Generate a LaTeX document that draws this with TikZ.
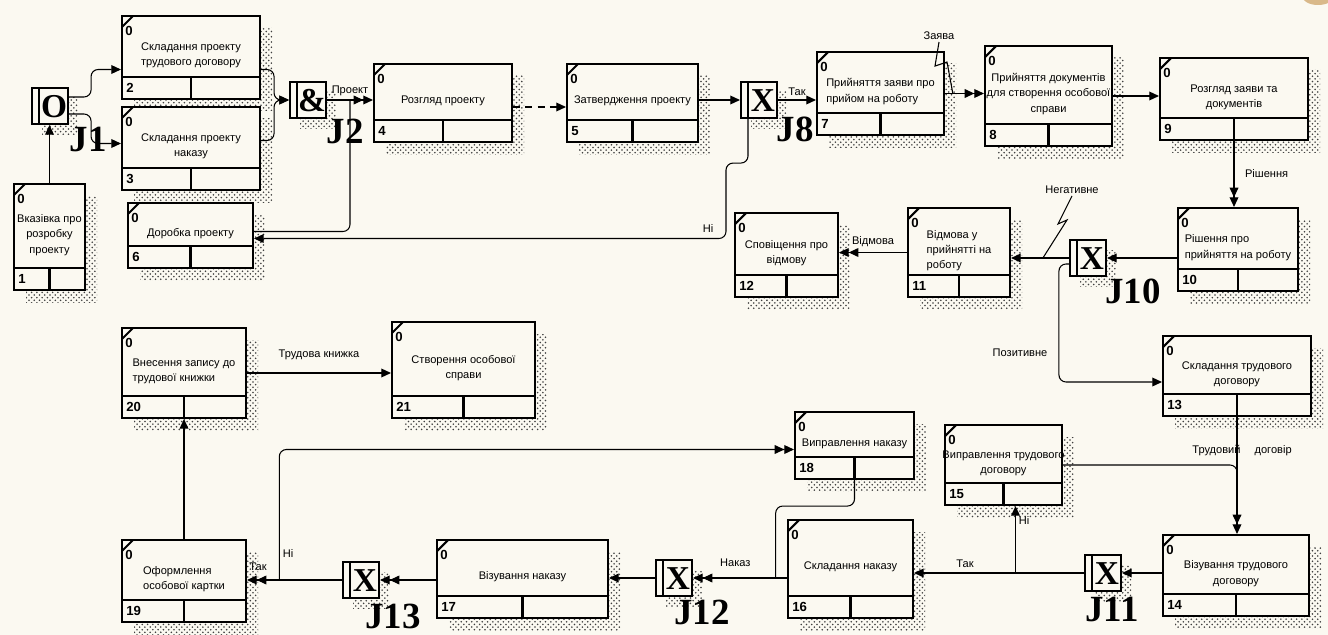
\documentclass[tikz,border=0pt]{standalone}
\usepackage{fontspec}
\setmainfont{Liberation Sans}
\newfontfamily\jfont{Liberation Serif}
\usetikzlibrary{arrows.meta,patterns,fit,calc}
\definecolor{paper}{HTML}{FBF9F1}
\definecolor{hatchgray}{HTML}{404040}
\definecolor{seal}{HTML}{D9B98A}

\tikzset{
  uowbox/.style={draw, line width=1.2pt, fill=paper, inner sep=0pt},
  jbox/.style={draw, line width=1.2pt, fill=paper, inner sep=0pt},
  hatch/.style={pattern=crosshatch dots, pattern color=hatchgray},
  flow/.style={line width=0.6pt, -{Triangle[length=5.5pt,width=5pt]}},
  dflow/.style={line width=0.6pt, -{Triangle[length=5.5pt,width=5pt]Triangle[length=5.5pt,width=5pt]}},
  link/.style={line width=0.6pt},
  lbl/.style={font=\fontsize{6.3}{8}\selectfont, inner sep=1pt},
  uowtext/.style={font=\fontsize{6.3}{8.7}\selectfont, inner sep=0pt},
  idnum/.style={font=\fontsize{7.5}{8}\selectfont\bfseries, inner sep=0pt},
  jsym/.style={font=\jfont\bfseries\fontsize{19}{19}\selectfont, inner sep=0pt},
  jlabel/.style={font=\jfont\bfseries\fontsize{21}{21}\selectfont, inner sep=0pt},
}

% робота: ім'я, x1, y1, x2, y2, номер, вирівнювання, текст
\newcommand{\uow}[8]{%
  \fill[hatch] (#2+12,#3+12) rectangle (#4+12,#5+12);
  \node[uowbox, fit={(#2,#3) (#4,#5)}] (#1) {};
  \draw[line width=1.2pt] (#2,#5-22) -- (#4,#5-22) ({(#2+#4)/2},#5-22) -- ({(#2+#4)/2},#5);
  \draw[line width=1.2pt] (#2,#3+11) -- (#2+11,#3);
  \node[idnum] (#1-z) at (#2+7,#3+15) {0};
  \node[idnum, anchor=west] (#1-n) at (#2+4,#5-11) {#6};
  \node[uowtext, align=#7] (#1-t) at ({(#2+#4)/2},{(#3+#5-22)/2+9}) {#8};
}

% перехрестя: ім'я, x, y, символ
\newcommand{\junc}[4]{%
  \fill[hatch] (#2+10,#3+10) rectangle (#2+46,#3+46);
  \node[jbox, fit={(#2,#3) (#2+36,#3+36)}] (#1) {};
  \draw[line width=1.2pt] (#2+7,#3) -- (#2+7,#3+36);
  \node[jsym] (#1-s) at (#2+22,#3+19) {#4};
}

\begin{document}
\begin{tikzpicture}[x=0.02cm, y=-0.02cm]
    % Тло
    \fill[paper] (0,0) rectangle (1328,635);
    \useasboundingbox (0,0) rectangle (1328,635);
    \begin{scope}
      \clip (0,0) rectangle (1328,635);
      \fill[seal] (1318,-4) ellipse [x radius=16, y radius=9];
    \end{scope}

    % Роботи
    \uow{b1}{14}{184}{85}{290}{1}{center}{Вказівка про\\розробку\\проекту}
    \uow{b2}{122}{16}{260}{99}{2}{center}{Складання проекту\\трудового договору}
    \uow{b3}{122}{107}{260}{190}{3}{center}{Складання проекту\\наказу}
    \uow{b6}{128}{203}{253}{268}{6}{center}{Доробка проекту}
    \uow{b4}{374}{64}{512}{142}{4}{center}{Розгляд проекту}
    \uow{b5}{567}{64}{698}{142}{5}{center}{Затвердження проекту}
    \uow{b7}{817}{52}{944}{135}{7}{left}{Прийняття заяви про\\прийом на роботу}
    \uow{b8}{985}{46}{1112}{146}{8}{center}{Прийняття документів\\для створення особової\\справи}
    \uow{b9}{1160}{58}{1308}{140}{9}{center}{Розгляд заяви та\\документів}
    \uow{b10}{1178}{208}{1298}{291}{10}{left}{Рішення про\\прийняття на роботу}
    \uow{b11}{908}{208}{1010}{297}{11}{left}{Відмова у\\прийнятті на\\роботу}
    \uow{b12}{735}{213}{838}{297}{12}{center}{Сповіщення про\\відмову}
    \uow{b13}{1163}{336}{1311}{416}{13}{center}{Складання трудового\\договору}
    \uow{b14}{1163}{535}{1309}{616}{14}{center}{Візування трудового\\договору}
    \uow{b15}{945}{425}{1062}{505}{15}{center}{Виправлення трудового\\договору}
    \uow{b16}{788}{520}{913}{618}{16}{center}{Складання наказу}
    \uow{b18}{795}{412}{914}{479}{18}{center}{Виправлення наказу}
    \uow{b17}{437}{540}{608}{618}{17}{center}{Візування наказу}
    \uow{b19}{122}{540}{246}{622}{19}{left}{Оформлення\\особової картки}
    \uow{b20}{122}{328}{246}{418}{20}{left}{Внесення запису до\\трудової книжки}
    \uow{b21}{392}{322}{535}{418}{21}{center}{Створення особової\\справи}

    % Перехрестя
    \junc{j1}{32}{88}{O}
    \junc{j2}{290}{82}{\&}
    \junc{j8}{741}{82}{X}
    \junc{j10}{1070}{240}{X}
    \junc{j11}{1085}{555}{X}
    \junc{j12}{656}{560}{X}
    \junc{j13}{343}{562}{X}
    \node[jlabel] (j1-l) at (88,140) {J1};
    \node[jlabel] (j2-l) at (345,131) {J2};
    \node[jlabel] (j8-l) at (795,129) {J8};
    \node[jlabel] (j10-l) at (1133,291) {J10};
    \node[jlabel] (j11-l) at (1112,609) {J11};
    \node[jlabel] (j12-l) at (702,612) {J12};
    \node[jlabel] (j13-l) at (393,616) {J13};

    % Зв'язки: верхній ряд
    \draw[flow] (b1.north) -- (b1.north |- j1.south);
    \draw[flow, rounded corners=4pt] ($(j1.east)+(0,-9)$) -- ++(22,0) |- ($(b2.west)+(0,12)$);
    \draw[flow, rounded corners=4pt] ($(j1.east)+(0,8)$) -- ++(22,0) |- ($(b3.west)+(0,-5)$);
    \draw[flow, rounded corners=4pt] ($(b2.east)+(0,12)$) -- ++(13,0) |- (j2.west);
    \draw[flow, rounded corners=4pt] ($(b3.east)+(0,-8)$) -- ++(13,0) |- (j2.west);
    \draw[dflow] (j2.east) -- (j2.east -| b4.west) node[lbl, midway, above=1pt] (l-proekt) {Проект};
    \coordinate (m4) at ($(j2.east)!0.5!(j2.east -| b4.west)$);
    \draw[link, rounded corners=4pt] ($(b6.east)+(0,-4)$) -| (m4);
    \draw[flow, dash pattern=on 4pt off 3pt] ($(b4.east)+(0,4)$) -- ($(b5.west)+(0,4)$);
    \draw[flow] (b5.east |- j8.west) -- (j8.west);
    \draw[flow] (j8.east) -- (j8.east -| b7.west) node[lbl, midway, above=1pt] (l-tak8) {Так};
    \draw[flow, rounded corners=4pt] ($(j8.south)+(-11,0)$) -- ++(0,44) -- ++(-22,0) |- ($(b6.east)+(0,3)$);
    \node[lbl] (l-ni8) at (708,228) {Ні};
    \draw[dflow] (b7.east) -- (b7.east -| b8.west);
    \node[lbl] (l-zaiava) at (939,36) {Заява};
    \draw[link] (l-zaiava.south) -- ++(-4,24) -- ++(12,-4) -- ($(b7.east)!0.2!(b7.east -| b8.west)$);
    \draw[flow] (b8.east) -- (b8.east -| b9.west);
    \draw[dflow] (b9.south) -- (b9.south |- b10.north) node[lbl, midway, right=5pt] (l-rish) {Рішення};

    % Зв'язки: рішення
    \draw[flow] (b10.west |- j10.east) -- (j10.east);
    \draw[flow] (j10.west) -- (j10.west -| b11.east);
    \node[lbl] (l-neg) at (1072,190) {Негативне};
    \draw[link] (l-neg.south) -- ++(-14,28) -- ++(9,-4) -- ($(j10.west)!0.45!(j10.west -| b11.east)$);
    \draw[dflow] (b11.west) -- (b11.west -| b12.east) node[lbl, midway, above=2pt] (l-vidm) {Відмова};
    \draw[flow, rounded corners=4pt] ($(j10.west)+(0,6)$) -- ++(-10,0) |- ($(b13.west)+(0,6)$);
    \node[lbl] (l-poz) at (1020,353) {Позитивне};

    % Зв'язки: договір
    \draw[dflow] (b13.south) -- (b13.south |- b14.north);
    \node[lbl] (l-dog) at (1242,451) {Трудовий\hspace{8pt}договір};
    \draw[link, rounded corners=4pt] (b15.east) -| ($(b13.south)!0.6!(b13.south |- b14.north)$);
    \draw[flow] (b14.west |- j11.east) -- (j11.east);
    \draw[flow] (j11.west) -- (j11.west -| b16.east) node[lbl, pos=0.7, above=2pt] (l-tak11) {Так};
    \coordinate (n15) at ($(b15.south)+(12,0)$);
    \draw[flow, rounded corners=3pt] (n15 |- j11.west) -- (n15);
    \node[lbl] (l-ni15) at (1024,520) {Ні};

    % Зв'язки: наказ
    \draw[dflow] (b16.west |- j12.east) -- (j12.east) node[lbl, pos=0.55, above=5pt] (l-nakaz) {Наказ};
    \draw[link, rounded corners=4pt] (b18.south) -- ++(0,26) -| ($(j12.east)!0.88!(j12.east -| b16.west)$);
    \draw[flow] (j12.west) -- (j12.west -| b17.east);
    \draw[dflow] (b17.west |- j13.east) -- (j13.east);
    \draw[dflow] (j13.west) -- (j13.west -| b19.east);
    \coordinate (n13) at ($(j13.west)!0.66!(j13.west -| b19.east)$);
    \draw[dflow, rounded corners=4pt] (n13) |- ($(b18.west)+(0,4)$);
    \node[lbl] (l-tak19) at (258,567) {Так};
    \node[lbl] (l-ni13) at (288,553) {Ні};

    % Зв'язки: особова справа
    \draw[flow] (b19.north) -- (b20.south);
    \draw[flow] (b20.east) -- (b20.east -| b21.west) node[lbl, midway, above=6pt] (l-knyzh) {Трудова книжка};
\end{tikzpicture}
\end{document}
